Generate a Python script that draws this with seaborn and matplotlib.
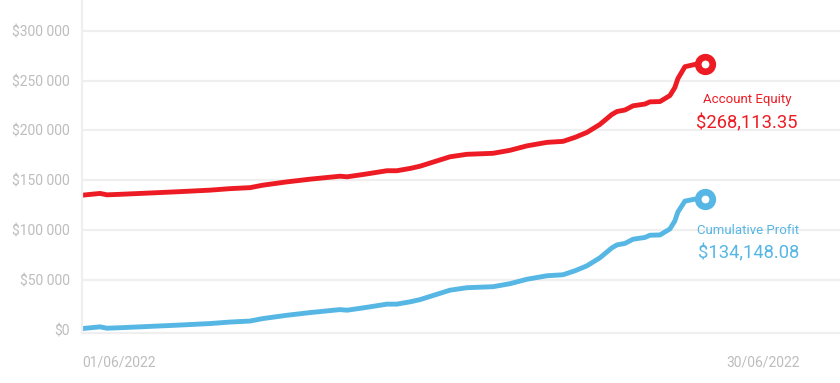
import matplotlib
matplotlib.use("Agg")
import matplotlib.pyplot as plt
import seaborn as sns
import pandas as pd

# days since 01/06/2022
days = [0.04, 0.77, 1.06, 1.62, 2.77, 4.17, 5.45, 6.30, 7.15, 7.70, 8.72, 9.70,
        10.98, 11.28, 12.04, 12.98, 13.40, 13.96, 14.38, 15.66, 16.38, 17.49,
        18.21, 18.94, 19.79, 20.47, 20.98, 21.49, 22.04, 22.55, 22.77, 23.11,
        23.45, 23.96, 24.17, 24.60, 25.02, 25.23, 25.36, 25.66, 26.09, 26.51]
# values in $1000
equity = [135.0, 136.7, 135.3, 135.8, 137.0, 138.5, 140.0, 141.5, 142.5, 145.0,
          148.3, 151.0, 154.0, 153.4, 156.0, 159.5, 159.5, 161.8, 164.0, 173.5,
          176.0, 177.0, 180.0, 184.5, 188.0, 189.0, 193.0, 198.0, 206.0, 216.0,
          219.0, 220.5, 224.7, 226.5, 228.7, 229.0, 235.0, 243.0, 252.0, 264.0,
          266.3, 266.5]
profit = [1.0, 2.7, 1.3, 1.8, 3.0, 4.5, 6.0, 7.5, 8.5, 11.0,
          14.3, 17.0, 20.0, 19.4, 22.0, 25.5, 25.5, 27.8, 30.0, 39.5,
          42.0, 43.0, 46.0, 50.5, 54.0, 55.0, 59.0, 64.0, 72.0, 82.0,
          85.0, 86.5, 90.7, 92.5, 94.7, 95.0, 101.0, 109.0, 118.0, 129.0,
          131.0, 131.3]

date_ticks = [0, 29.0]
date_labels = ["01/06/2022", "30/06/2022"]
y_ticks = [0, 50000, 100000, 150000, 200000, 250000, 300000]
y_labels = ["$0", "$50 000", "$100 000", "$150 000", "$200 000", "$250 000", "$300 000"]

RED = "#ED1C24"
BLUE = "#56B6E4"
GREY = "#BDBDBD"

df = pd.DataFrame({
    "day": days * 2,
    "value": [v * 1000 for v in equity] + [v * 1000 for v in profit],
    "series": ["Account Equity"] * len(days) + ["Cumulative Profit"] * len(days),
})

sns.set_style("white")
plt.rcParams["font.family"] = ["Roboto", "DejaVu Sans"]

fig = plt.figure(figsize=(8.4, 3.83), dpi=100)
ax = fig.add_axes([82 / 840, 50 / 383, 758 / 840, 333 / 383])

sns.lineplot(data=df, x="day", y="value", hue="series",
             palette={"Account Equity": RED, "Cumulative Profit": BLUE},
             linewidth=3.5, legend=False, ax=ax)

# end markers (ring)
for vals, col in [(equity, RED), (profit, BLUE)]:
    ax.plot(days[-1], vals[-1] * 1000, marker="o", ms=10.5, mew=4.8,
            mfc="white", mec=col, zorder=5)

ax.text(28.3, 231500, "Account Equity", color=RED, fontsize=9.5,
        ha="center", va="center")
ax.text(28.3, 207500, "$268,113.35", color=RED, fontsize=13.2,
        ha="center", va="center")
ax.text(28.35, 99500, "Cumulative Profit", color=BLUE, fontsize=9.5,
        ha="center", va="center")
ax.text(28.35, 77000, "$134,148.08", color=BLUE, fontsize=13.2,
        ha="center", va="center")

ax.set_xlim(0, 32.26)
ax.set_ylim(-3500, 331000)
ax.set_yticks(y_ticks)
ax.set_yticklabels(y_labels)
ax.set_xticks(date_ticks)
ax.set_xticklabels(date_labels)
ax.get_xticklabels()[0].set_ha("left")
ax.tick_params(axis="both", colors=GREY, labelsize=10, length=0)
ax.tick_params(axis="y", pad=9)
ax.tick_params(axis="x", pad=16)
ax.set_xlabel("")
ax.set_ylabel("")

ax.yaxis.grid(True, color="#EFEFEF", linewidth=1.6)
ax.yaxis.get_gridlines()[0].set_visible(False)
ax.set_axisbelow(True)
for side in ["top", "right"]:
    ax.spines[side].set_visible(False)
for side in ["left", "bottom"]:
    ax.spines[side].set_color("#EFEFEF")
    ax.spines[side].set_linewidth(1.6)

fig.savefig("out.png", dpi=100)
